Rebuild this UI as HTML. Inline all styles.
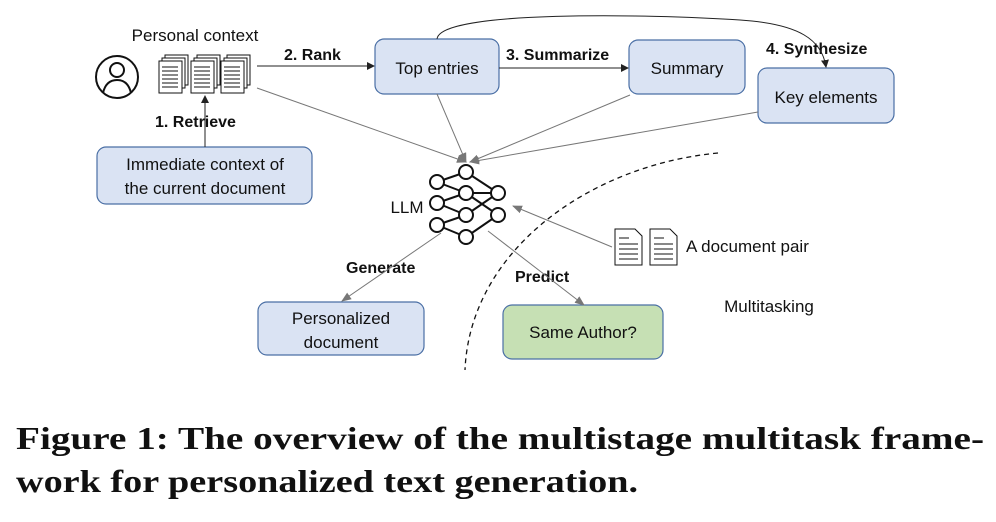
<!DOCTYPE html>
<html><head><meta charset="utf-8"><style>
body{margin:0;background:#fff;width:996px;height:522px;overflow:hidden}
</style></head><body>
<svg width="996" height="522" xmlns="http://www.w3.org/2000/svg" style="position:absolute;left:0;top:0">
<defs>
<marker id="a" markerWidth="8" markerHeight="8" refX="7" refY="4" orient="auto" markerUnits="userSpaceOnUse"><path d="M0,0 L8,4 L0,8 z" fill="#222"/></marker>
<marker id="g" markerWidth="10" markerHeight="8" refX="9" refY="4" orient="auto" markerUnits="userSpaceOnUse"><path d="M0,0 L10,4 L0,8 z" fill="#777"/></marker>
</defs>
<g font-family="Liberation Sans, sans-serif" fill="#111">
<circle cx="117" cy="77" r="21" fill="none" stroke="#111" stroke-width="2"/>
<circle cx="117" cy="70" r="7" fill="none" stroke="#111" stroke-width="2"/>
<path d="M103,93 Q106,80 117,80 Q128,80 131,93" fill="none" stroke="#111" stroke-width="2"/>
<text x="195" y="41" font-size="17" text-anchor="middle">Personal context</text>
<g fill="#fff" stroke="#111" stroke-width="1">
<rect x="165" y="55" width="23" height="30"/><rect x="162" y="58" width="23" height="30"/><rect x="159" y="61" width="23" height="32"/>
<rect x="197" y="55" width="23" height="30"/><rect x="194" y="58" width="23" height="30"/><rect x="191" y="61" width="23" height="32"/>
<rect x="227" y="55" width="23" height="30"/><rect x="224" y="58" width="23" height="30"/><rect x="221" y="61" width="23" height="32"/>
</g>
<g stroke="#111" stroke-width="1">
<path d="M162,67h16M162,71h16M162,75h16M162,79h16M162,83h16M162,87h16M194,67h16M194,71h16M194,75h16M194,79h16M194,83h16M194,87h16M224,67h16M224,71h16M224,75h16M224,79h16M224,83h16M224,87h16"/>
</g>
<g fill="#dae3f3" stroke="#4a6fa5" stroke-width="1.2">
<rect x="97" y="147" width="215" height="57" rx="9"/>
<rect x="375" y="39" width="124" height="55" rx="9"/>
<rect x="629" y="40" width="116" height="54" rx="9"/>
<rect x="758" y="68" width="136" height="55" rx="9"/>
<rect x="258" y="302" width="166" height="53" rx="9"/>
</g>
<rect x="503" y="305" width="160" height="54" rx="9" fill="#c6e0b4" stroke="#4a6fa5" stroke-width="1.2"/>
<g font-size="17" text-anchor="middle">
<text x="205" y="170">Immediate context of</text>
<text x="205" y="194">the current document</text>
<text x="437" y="74">Top entries</text>
<text x="687" y="74">Summary</text>
<text x="826" y="103">Key elements</text>
<text x="341" y="324">Personalized</text>
<text x="341" y="348">document</text>
<text x="583" y="338">Same Author?</text>
<text x="769" y="312" text-anchor="middle">Multitasking</text>
<text x="407" y="213">LLM</text>
<text x="686" y="252" text-anchor="start">A document pair</text>
</g>
<g font-size="16" font-weight="bold">
<text x="284" y="60">2. Rank</text>
<text x="506" y="60">3. Summarize</text>
<text x="766" y="54">4. Synthesize</text>
<text x="155" y="127">1. Retrieve</text>
<text x="346" y="273">Generate</text>
<text x="515" y="282">Predict</text>
</g>
<g stroke="#222" stroke-width="1" fill="none">
<line x1="257" y1="66" x2="374" y2="66" marker-end="url(#a)"/>
<line x1="499" y1="68" x2="628" y2="68" marker-end="url(#a)"/>
<line x1="205" y1="147" x2="205" y2="96" marker-end="url(#a)"/>
<path d="M437,39 C440,10 650,14 740,20 C800,24 822,40 826,67" marker-end="url(#a)"/>
</g>
<g stroke="#777" stroke-width="1" fill="none">
<line x1="257" y1="88" x2="466" y2="162" marker-end="url(#g)"/>
<line x1="437" y1="94" x2="466" y2="162" marker-end="url(#g)"/>
<line x1="630" y1="95" x2="470" y2="162" marker-end="url(#g)"/>
<line x1="758" y1="112" x2="470" y2="162" marker-end="url(#g)"/>
<line x1="612" y1="247" x2="513" y2="206" marker-end="url(#g)"/>
<line x1="441" y1="233" x2="342" y2="301" marker-end="url(#g)"/>
<line x1="488" y1="231" x2="584" y2="305" marker-end="url(#g)"/>
</g>
<path d="M718,153 C590,165 470,250 465,370" fill="none" stroke="#111" stroke-width="1.3" stroke-dasharray="5,4"/>
<g stroke="#111" stroke-width="2">
<path d="M437,182L466,172M437,182L466,193M437,203L466,193M437,203L466,215M437,225L466,215M437,225L466,237M466,172L498,193M466,193L498,193M466,193L498,215M466,215L498,193M466,237L498,215"/>
</g>
<g fill="#fff" stroke="#111" stroke-width="2">
<circle cx="437" cy="182" r="7"/><circle cx="437" cy="203" r="7"/><circle cx="437" cy="225" r="7"/>
<circle cx="466" cy="172" r="7"/><circle cx="466" cy="193" r="7"/><circle cx="466" cy="215" r="7"/><circle cx="466" cy="237" r="7"/>
<circle cx="498" cy="193" r="7"/><circle cx="498" cy="215" r="7"/>
</g>
<g fill="#fff" stroke="#111" stroke-width="1">
<path d="M615,229h20l7,7v29h-27z"/><path d="M650,229h20l7,7v29h-27z"/>
<path d="M619,238h10M619,244h19M619,249h19M619,254h19M619,259h19M654,238h10M654,244h19M654,249h19M654,254h19M654,259h19"/>
</g>
</g>
<g font-family="Liberation Serif, serif" font-weight="bold" font-size="32" fill="#111">
<text x="16" y="449" textLength="968" lengthAdjust="spacingAndGlyphs">Figure 1: The overview of the multistage multitask frame-</text>
<text x="16" y="492" textLength="622" lengthAdjust="spacingAndGlyphs">work for personalized text generation.</text>
</g>
</svg>
</body></html>
